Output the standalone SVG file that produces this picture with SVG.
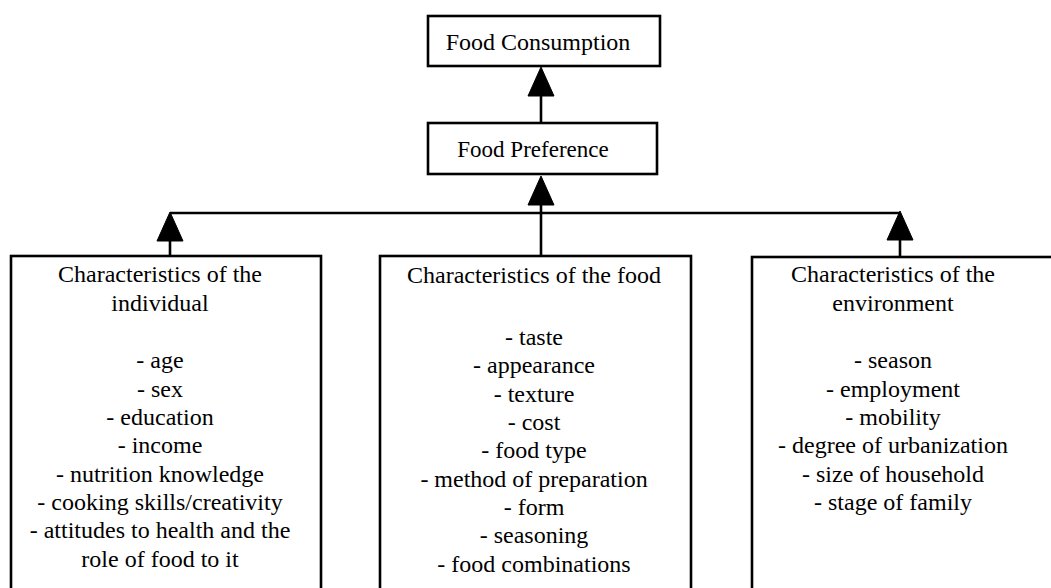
<svg xmlns="http://www.w3.org/2000/svg" width="1051" height="588" viewBox="0 0 1051 588" font-family="'Liberation Serif', 'Times New Roman', serif">
  <style>
    .box { fill: #ffffff; stroke: #000000; stroke-width: 2.6; }
    .line { fill: none; stroke: #000000; stroke-width: 2.6; }
    .head { fill: #000000; stroke: #000000; stroke-width: 1; stroke-linejoin: round; }
    text { font-family: "Liberation Serif", "Times New Roman", serif; font-size: 24px; fill: #000000; text-anchor: middle; }
  </style>
  <rect width="1051" height="588" fill="#ffffff"/>

  <!-- connectors -->
  <g id="connectors">
    <!-- preference to consumption -->
    <line class="line" x1="541" y1="123" x2="541" y2="90"/>
    <polygon class="head" points="541,67 528,96 554,96"/>
    <!-- food characteristics to preference -->
    <line class="line" x1="541" y1="256" x2="541" y2="200"/>
    <polygon class="head" points="541,176 528,205 554,205"/>
    <!-- shared bus -->
    <line class="line" x1="170" y1="213" x2="900" y2="213"/>
    <!-- individual branch -->
    <line class="line" x1="170" y1="256" x2="170" y2="236"/>
    <polygon class="head" points="170,212 157,241 183,241"/>
    <!-- environment branch -->
    <line class="line" x1="900" y1="256" x2="900" y2="236"/>
    <polygon class="head" points="900,211 887,240 913,240"/>
  </g>

  <g id="food-consumption">
    <rect class="box" x="428" y="16" width="232" height="50"/>
    <text x="538" y="50">Food Consumption</text>
  </g>

  <g id="food-preference">
    <rect class="box" x="428" y="123" width="229" height="51"/>
    <text x="533" y="157" style="font-size:23px">Food Preference</text>
  </g>

  <g id="individual">
    <rect class="box" x="11" y="256" width="310" height="345"/>
    <text x="160" y="282">Characteristics of the</text>
    <text x="160" y="311">individual</text>
    <text x="160" y="368">- age</text>
    <text x="160" y="397">- sex</text>
    <text x="160" y="425">- education</text>
    <text x="160" y="453">- income</text>
    <text x="160" y="482">- nutrition knowledge</text>
    <text x="160" y="510">- cooking skills/creativity</text>
    <text x="160" y="538">- attitudes to health and the</text>
    <text x="160" y="567">role of food to it</text>
  </g>

  <g id="food">
    <rect class="box" x="380" y="256" width="311" height="345"/>
    <text x="534" y="283">Characteristics of the food</text>
    <text x="534" y="345">- taste</text>
    <text x="534" y="373">- appearance</text>
    <text x="534" y="402">- texture</text>
    <text x="534" y="430">- cost</text>
    <text x="534" y="458">- food type</text>
    <text x="534" y="487">- method of preparation</text>
    <text x="534" y="515">- form</text>
    <text x="534" y="543">- seasoning</text>
    <text x="534" y="572">- food combinations</text>
  </g>

  <g id="environment">
    <rect class="box" x="752" y="257" width="310" height="345"/>
    <text x="893" y="282">Characteristics of the</text>
    <text x="893" y="311">environment</text>
    <text x="893" y="368">- season</text>
    <text x="893" y="397">- employment</text>
    <text x="893" y="425">- mobility</text>
    <text x="893" y="453">- degree of urbanization</text>
    <text x="893" y="482">- size of household</text>
    <text x="893" y="510">- stage of family</text>
  </g>
</svg>
